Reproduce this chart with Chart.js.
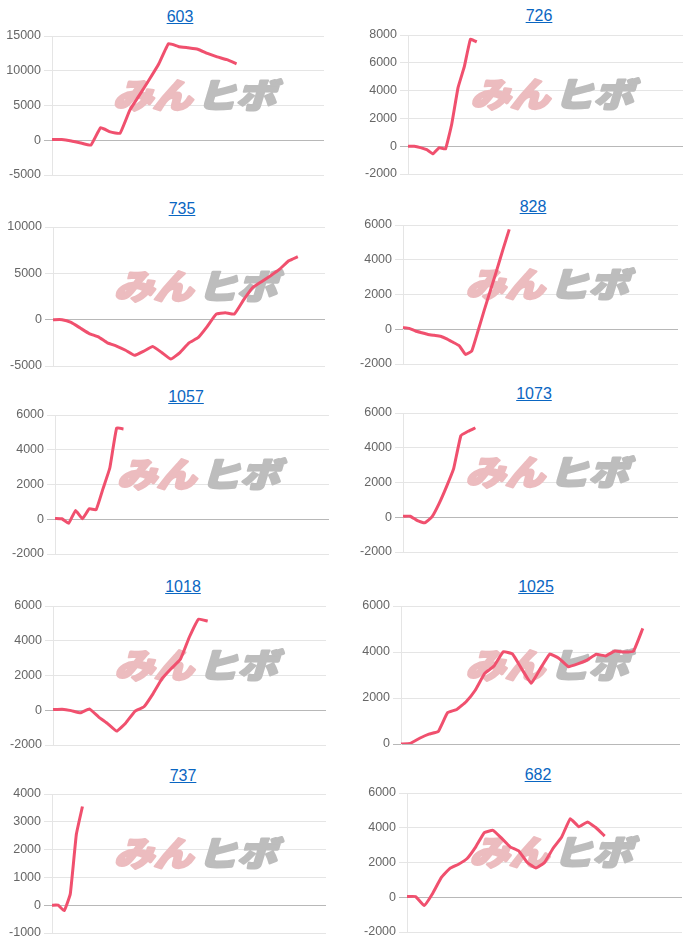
<!DOCTYPE html>
<html>
<head>
<meta charset="utf-8">
<script src="https://cdn.jsdelivr.net/npm/chart.js@4.4.1/dist/chart.umd.min.js"></script>
<style>
  body { margin: 0; background: #fff; }
  #wrap { position: relative; width: 700px; height: 949px; overflow: hidden; }
  .ttl {
    position: absolute;
    transform: translate(-50%, -50%);
    font: 16px "Liberation Sans", Arial, sans-serif;
    line-height: 1;
    color: #0a66c2;
    text-decoration: underline;
    white-space: nowrap;
  }
  canvas { position: absolute; }
</style>
</head>
<body>
<div id="wrap"></div>
<script>
// ----- data -----
const titles = ["603", "726", "735", "828", "1057", "1073", "1018", "1025", "737", "682"];
const labelCounts = [29, 45, 31, 45, 41, 39, 31, 31, 46, 33];

const s603 = [100, 100, -100, -400, -700, 1800, 1200, 1000, 4300, 6500, 8700, 11000, 13900, 13500, 13300, 13100, 12500, 12000, 11600, 11000];
const s726 = [0, 0, -100, -250, -550, -100, -200, 1600, 4200, 5700, 7700, 7500];
const s735 = [0, 0, -300, -900, -1500, -1850, -2500, -2850, -3300, -3850, -3400, -2900, -3550, -4250, -3550, -2500, -1950, -750, 600, 750, 600, 2100, 3450, 4100, 4750, 5450, 6350, 6800];
const s828 = [100, 50, -100, -200, -300, -350, -400, -550, -750, -950, -1450, -1250, -100, 1100, 2250, 3400, 4600, 5750];
const s1057 = [50, 30, -230, 500, 30, 600, 550, 1750, 2950, 5250, 5200];
const s1073 = [60, 60, -200, -320, 20, 800, 1750, 2800, 4700, 4950, 5150];
const s1018 = [40, 60, -20, -150, 80, -380, -770, -1200, -730, -60, 200, 960, 1830, 2400, 2930, 4230, 5250, 5130];
const s1025 = [0, 30, 250, 430, 540, 1360, 1500, 1840, 2350, 3070, 3390, 4010, 3910, 3250, 2640, 3290, 3910, 3720, 3360, 3480, 3650, 3900, 3830, 4040, 4000, 4040, 5030];
const s737 = [0, 0, -200, 400, 2550, 3550];
const s682 = [40, 40, -480, 230, 1140, 1660, 1900, 2230, 2900, 3720, 3850, 3400, 2900, 2670, 2000, 1680, 2000, 2820, 3470, 4520, 4060, 4330, 4000, 3520];
const allSeries = [s603, s726, s735, s828, s1057, s1073, s1018, s1025, s737, s682];

// y axis ticks
const yMin = [-5000, -2000, -5000, -2000, -2000, -2000, -2000, 0, -1000, -2000];
const yMax = [15000, 8000, 10000, 6000, 6000, 6000, 6000, 6000, 4000, 6000];
const yStep = [5000, 2000, 5000, 2000, 2000, 2000, 2000, 2000, 1000, 2000];

// ----- layout (plot area + title centre, px) -----
const boxes = [
  { l: 52, t: 36, r: 324, b: 175, tx: 180, ty: 17 },
  { l: 408, t: 35, r: 683, b: 174, tx: 539, ty: 16 },
  { l: 53, t: 227, r: 325, b: 366, tx: 182, ty: 209 },
  { l: 403, t: 225, r: 678, b: 364, tx: 533, ty: 207 },
  { l: 55, t: 415, r: 329, b: 554, tx: 186, ty: 397 },
  { l: 403, t: 413, r: 678, b: 552, tx: 534, ty: 394 },
  { l: 53, t: 606, r: 326, b: 745, tx: 183, ty: 587 },
  { l: 401, t: 606, r: 680, b: 744, tx: 536, ty: 587 },
  { l: 52, t: 794, r: 326, b: 933, tx: 183, ty: 776 },
  { l: 407, t: 793, r: 682, b: 932, tx: 538, ty: 775 }
];

Chart.defaults.font.family = '"Liberation Sans", Arial, sans-serif';
Chart.defaults.font.size = 12;
Chart.defaults.color = "#666";

// watermark logo drawn under the line
const watermark = {
  id: "watermark",
  beforeDatasetsDraw(chart) {
    const { ctx, chartArea } = chart;
    const cx = (chartArea.left + chartArea.right) / 2 + 9;
    const cy = chartArea.top + 59;
    ctx.save();
    ctx.translate(cx, cy);
    ctx.transform(1.16, 0, -0.3, 1, 0, 0);
    ctx.font = '900 34px "Noto Sans CJK JP"';
    ctx.textBaseline = "middle";
    ctx.lineJoin = "round";
    ctx.lineWidth = 2.5;
    ctx.textAlign = "right";
    ctx.fillStyle = ctx.strokeStyle = "#ecbcbf";
    ctx.strokeText("みん", -1, 0);
    ctx.fillText("みん", -1, 0);
    ctx.textAlign = "left";
    ctx.fillStyle = ctx.strokeStyle = "#bdbdbd";
    ctx.strokeText("ヒボ", 3, 0);
    ctx.fillText("ヒボ", 3, 0);
    ctx.restore();
  }
};

const wrap = document.getElementById("wrap");

titles.forEach((name, i) => {
  const bx = boxes[i];
  const colX = i % 2 === 0 ? 0 : 350;
  const pad = 12;

  const a = document.createElement("a");
  a.className = "ttl";
  a.href = "#";
  a.textContent = name;
  a.style.left = bx.tx + "px";
  a.style.top = bx.ty + "px";
  wrap.appendChild(a);

  const cv = document.createElement("canvas");
  const w = 350;
  const h = bx.b - bx.t + pad * 2;
  cv.width = w;
  cv.height = h;
  cv.style.width = w + "px";
  cv.style.height = h + "px";
  cv.style.left = colX + "px";
  cv.style.top = (bx.t - pad) + "px";
  wrap.appendChild(cv);

  const labels = [];
  for (let k = 1; k <= labelCounts[i]; k++) labels.push(String(k));

  new Chart(cv, {
    type: "line",
    data: {
      labels: labels,
      datasets: [{
        data: allSeries[i],
        borderColor: "#f0506e",
        backgroundColor: "#f0506e",
        borderWidth: 3,
        pointRadius: 0,
        fill: false,
        tension: 0.1
      }]
    },
    options: {
      responsive: false,
      animation: false,
      events: [],
      layout: { padding: { top: pad, bottom: pad, left: 0, right: colX + 350 - bx.r } },
      plugins: { legend: { display: false }, tooltip: { enabled: false } },
      scales: {
        x: { display: false },
        y: {
          min: yMin[i],
          max: yMax[i],
          afterFit: (s) => { s.width = bx.l - colX; },
          ticks: {
            stepSize: yStep[i],
            color: "#666",
            padding: 3,
            font: { size: 12.5 },
            callback: (v) => String(v)
          },
          grid: {
            color: (c) => (c.tick && c.tick.value === 0 ? "rgba(0,0,0,0.28)" : "rgba(0,0,0,0.1)"),
            tickLength: 8
          },
          border: { color: "rgba(0,0,0,0.1)" }
        }
      }
    },
    plugins: [watermark]
  });
});
</script>
</body>
</html>
